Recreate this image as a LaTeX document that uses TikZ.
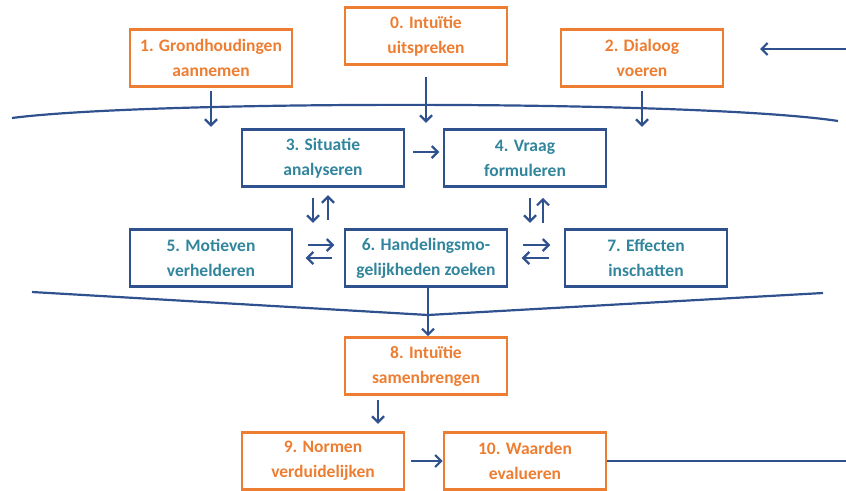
\documentclass[tikz,border=0pt]{standalone}
\usepackage{fontspec}
\setmainfont{Carlito}
\usetikzlibrary{arrows.meta}
\definecolor{staporanje}{RGB}{237,125,49}
\definecolor{stapblauw}{RGB}{47,82,143}
\definecolor{staptekst}{RGB}{49,133,156}
\begin{document}
\begin{tikzpicture}[x=1pt, y=-1pt,
    obox/.style={draw=staporanje, line width=2.6pt, rectangle, minimum width=162pt, minimum height=57pt,
        align=center, text=staporanje, font=\fontsize{17.5}{25}\selectfont\bfseries},
    bbox/.style={obox, draw=stapblauw, text=staptekst},
    pijl/.style={draw=stapblauw, line width=2.2pt, -{Straight Barb[length=6pt,width=12pt,line width=2.2pt]}},
    lijn/.style={draw=stapblauw, line width=2.2pt}]
    \useasboundingbox (0,0) rectangle (846,490);

    \node[obox] (b0) at (426, 36) {0. Intuïtie\\uitspreken};
    \node[obox] (b1) at (211, 58) {1. Grondhoudingen\\aannemen};
    \node[obox] (b2) at (642, 58) {2. Dialoog\\voeren};

    \node[bbox] (b3) at (323, 158) {3. Situatie\\analyseren};
    \node[bbox] (b4) at (525, 158) {4. Vraag\\formuleren};
    \node[bbox] (b5) at (211, 258) {5. Motieven\\verhelderen};
    \node[bbox] (b6) at (426, 258) {6. Handelingsmo-\\gelijkheden zoeken};
    \node[bbox] (b7) at (646, 258) {7. Effecten\\inschatten};

    \node[obox] (b8) at (426, 366) {8. Intuïtie\\samenbrengen};
    \node[obox] (b9) at (323, 461) {9. Normen\\verduidelijken};
    \node[obox] (b10) at (525, 461) {10. Waarden\\evalueren};

    % bovenste boog en instroom
    \coordinate (terug) at (846, 49);
    \draw[pijl] (terug) -- ++(-86, 0);
    \draw[lijn] (12, 118) .. controls (150, 100) and (700, 100) .. (838, 121);
    \draw[pijl] (b0.south) ++(0, 11) -- ++(0, 46);
    \draw[pijl] (b1.south) ++(0, 3) -- ++(0, 36);
    \draw[pijl] (b2.south) ++(0, 3) -- ++(0, 36);

    % middenblok
    \draw[pijl] (b3.east) ++(8, -6) -- ++(26, 0);
    \draw[pijl] ([xshift=-10pt]b3.south) ++(0, 10) -- ++(0, 25);
    \draw[pijl] ([xshift=5pt]b6.north) ++(-103, -8) -- ++(0, -25);
    \draw[pijl] ([xshift=5pt]b4.south) ++(0, 10) -- ++(0, 25);
    \draw[pijl] ([xshift=18pt]b4.south) ++(0, 35) -- ++(0, -25);
    \draw[pijl] (b5.east) ++(15, -13) -- ++(26, 0);
    \draw[pijl] (b6.west) ++(-12, 0) -- ++(-26, 0);
    \draw[pijl] (b6.east) ++(15, -13) -- ++(27, 0);
    \draw[pijl] (b7.west) ++(-15, 0) -- ++(-27, 0);

    % trechter naar 8
    \coordinate (punt) at (428, 315);
    \draw[lijn] (32, 292) -- (punt) -- (823, 293);
    \draw[pijl] ([xshift=2pt]b6.south) -- ([xshift=2pt]b8.north);

    % onderste deel
    \draw[pijl] ([xshift=-48pt]b8.south) ++(0, 4) -- ++(0, 24);
    \draw[pijl] (b9.east) ++(6, 0) -- (b10.west);
    \coordinate (uit) at (846, 461);
    \draw[lijn] (b10.east) -- (uit);
\end{tikzpicture}
\end{document}
